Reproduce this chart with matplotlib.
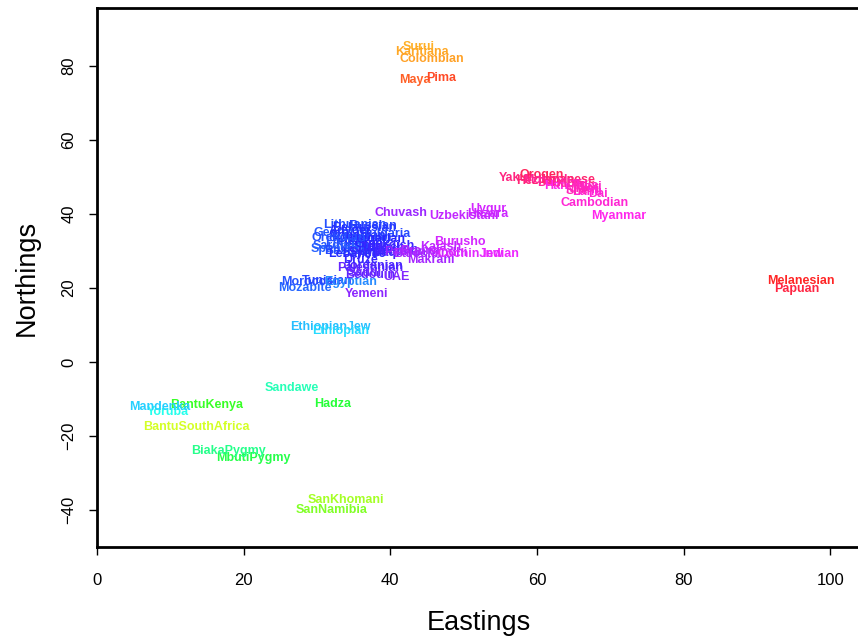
import matplotlib
matplotlib.use("Agg")
import matplotlib.pyplot as plt
from matplotlib.colors import hsv_to_rgb

# population labels, map coordinates (Eastings, Northings) and hue in degrees
pops = [
    "Surui", "Karitiana", "Colombian", "Maya", "Pima",
    "Melanesian", "Papuan",
    "SanKhomani", "SanNamibia", "BantuSouthAfrica", "BantuKenya", "Hadza",
    "Sandawe", "MbutiPygmy", "BiakaPygmy", "Yoruba", "Mandenka",
    "EthiopianJew", "Ethiopian",
    "Mozabite", "Moroccan", "Tunisian", "Egyptian", "Yemeni",
    "Palestinian", "Bedouin", "Saudi", "UAE", "Jordanian", "Druze",
    "Lithuanian", "Russian", "Belarusian", "Georgian", "Bulgaria", "Armenian",
    "Adygei", "Romanian", "Hungarian", "French", "Italian", "Tuscan",
    "Sardinian", "Spanish", "Basque", "Greek", "Turkish", "Cypriot",
    "Lebanese", "Syrian", "Iraqi", "Iranian", "Kurdish", "Orcadian",
    "Pathan", "Balochi", "Brahui", "Makrani", "Sindhi", "Kalash",
    "Burusho", "CochinJew", "Indian",
    "Chuvash", "Uzbekistani", "Uygur", "Hazara",
    "Yakut", "Oroqen", "Hezhen", "Mongola", "Japanese", "Daur", "Han",
    "Xibo", "Tu", "Tujia", "Naxi", "Yi", "Lahu", "She", "Miao", "Dai",
    "Cambodian", "Myanmar",
]
east = [
    43.9, 44.3, 45.6, 43.3, 46.9,
    96.0, 95.4,
    34.0, 32.0, 13.5, 14.9, 32.1,
    26.6, 21.3, 17.9, 9.6, 8.6,
    31.8, 33.2,
    28.4, 29.1, 31.4, 34.6, 36.7,
    37.3, 37.3, 36.5, 40.8, 37.8, 36.0,
    35.2, 37.6, 36.5, 33.2, 39.3, 35.5,
    34.5, 36.0, 37.8, 34.0, 36.0, 35.2,
    33.3, 32.5, 34.0, 37.5, 39.0, 38.5,
    35.5, 37.0, 39.5, 41.0, 40.0, 33.0,
    42.0, 43.5, 44.0, 45.6, 48.0, 46.9,
    49.5, 51.0, 55.1,
    41.4, 50.1, 53.4, 53.3,
    57.1, 60.7, 60.2, 61.6, 64.1, 62.0, 62.6,
    64.5, 66.0, 66.5, 67.0, 67.8, 66.8, 65.5, 65.8, 68.3,
    67.9, 71.2,
]
north = [
    85.1, 83.8, 81.9, 76.2, 76.8,
    21.9, 19.7,
    -37.3, -40.0, -17.6, -11.6, -11.4,
    -7.0, -25.9, -24.1, -13.5, -12.2,
    9.5, 8.4,
    20.0, 21.6, 21.9, 21.6, 18.4,
    25.4, 23.5, 24.0, 23.0, 26.0, 27.5,
    37.0, 36.8, 36.2, 34.8, 34.6, 34.2,
    35.5, 33.5, 33.3, 32.5, 31.0, 32.0,
    31.3, 30.6, 30.0, 31.8, 30.8, 29.8,
    29.2, 29.5, 29.4, 30.3, 31.5, 33.5,
    29.8, 29.2, 29.9, 27.6, 29.5, 31.1,
    32.4, 29.2, 29.2,
    40.3, 39.5, 41.4, 40.0,
    49.7, 50.5, 49.0, 49.2, 49.2, 48.5, 47.6,
    48.0, 47.8, 47.5, 47.2, 46.5, 46.0, 46.2, 46.8, 45.4,
    43.0, 39.5,
]
hue = [
    38, 36, 34, 16, 10,
    0, 352,
    85, 95, 72, 115, 125,
    160, 130, 148, 175, 193,
    198, 190,
    222, 228, 232, 212, 268,
    258, 255, 260, 265, 250, 245,
    228, 232, 235, 226, 230, 236,
    238, 232, 240, 228, 236, 240,
    226, 224, 230, 240, 245, 242,
    238, 244, 248, 250, 246, 228,
    270, 275, 278, 275, 285, 282,
    288, 292, 295,
    272, 283, 288, 286,
    335, 345, 338, 330, 340, 328, 305,
    325, 322, 318, 315, 315, 310, 320, 318, 312,
    312, 305,
]

FONT = ["Liberation Sans", "DejaVu Sans"]

fig = plt.figure(figsize=(8.58, 6.41), dpi=100)
ax = fig.add_axes([97 / 858, 94 / 641, 764 / 858, 539 / 641])

ax.scatter(east, north, s=0)
for name, x, y, h in zip(pops, east, north, hue):
    col = hsv_to_rgb((h / 360.0, 0.85, 1.0))
    ax.text(x, y, name, color=col, fontsize=9, fontweight="bold",
            family=FONT, ha="center", va="center")

ax.set_xlim(0, 104.2)
ax.set_ylim(-50.0, 95.7)
ax.set_xticks([0, 20, 40, 60, 80, 100])
ax.set_yticks([-40, -20, 0, 20, 40, 60, 80])
for sp in ax.spines.values():
    sp.set_linewidth(2)
ax.tick_params(direction="out", length=6, width=1, labelsize=12)
ax.tick_params(axis="x", pad=13)
ax.tick_params(axis="y", pad=9)
for lab in ax.get_xticklabels() + ax.get_yticklabels():
    lab.set_family(FONT)
plt.setp(ax.get_yticklabels(), rotation=90, va="center")

ax.set_xlabel("Eastings", fontsize=19.5, family=FONT)
ax.set_ylabel("Northings", fontsize=19.5, family=FONT)
ax.xaxis.set_label_coords(0.5, -(623 - 547) / 539)
ax.xaxis.label.set_va("center")
ax.yaxis.set_label_coords(-(97 - 27) / 764, 0.5)
ax.yaxis.label.set_va("center")

fig.savefig("out.png", dpi=100)
